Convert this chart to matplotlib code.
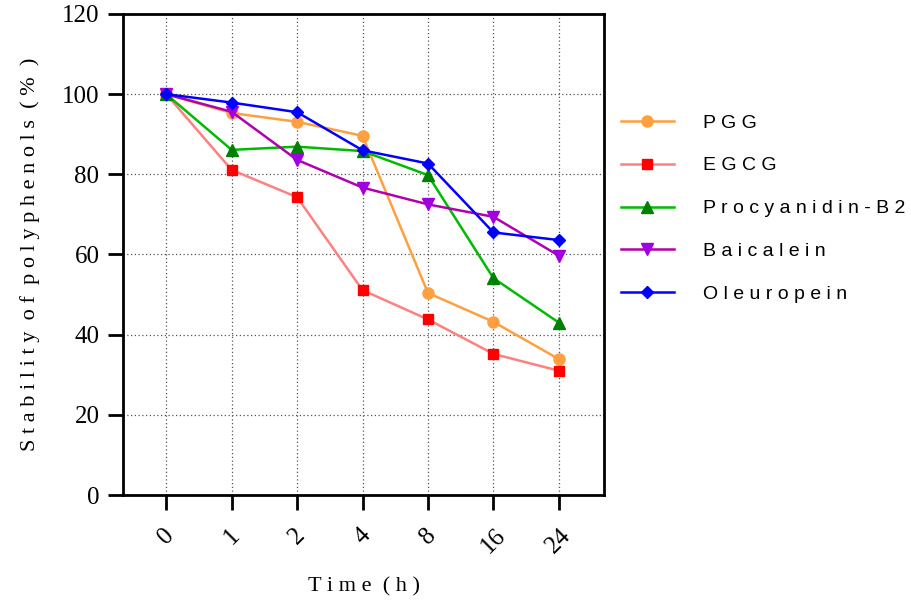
import matplotlib
matplotlib.use("Agg")
import matplotlib.pyplot as plt
import numpy as np

# sampling times (h), shown as evenly spaced categories
times = ["0", "1", "2", "4", "8", "16", "24"]
y_ticks = [0, 20, 40, 60, 80, 100, 120]

pgg = [100, 95.3, 93.1, 89.6, 50.4, 43.2, 33.9]
egcg = [100, 81.1, 74.3, 51.1, 43.8, 35.2, 31.0]
procyanidin_b2 = [100, 86.1, 86.9, 85.8, 79.8, 54.1, 43.0]
baicalein = [100, 95.6, 83.6, 76.7, 72.5, 69.4, 59.7]
oleuropein = [100, 97.9, 95.5, 86.0, 82.7, 65.5, 63.6]

names = ["PGG", "EGCG", "Procyanidin-B2", "Baicalein", "Oleuropein"]


def spaced(s):
    # spread letters out a bit, like the original export
    return " ".join(s)


fig = plt.figure(figsize=(9.12, 6.03), dpi=100)
ax = fig.add_axes([0.1349, 0.1791, 0.5274, 0.7977])

x = np.arange(len(times))
styles = [
    (pgg, "#FFA040", "#FFA040", "o", 8),
    (egcg, "#FF8080", "#FF0000", "s", 7.5),
    (procyanidin_b2, "#00BB00", "#008000", "^", 8),
    (baicalein, "#B000B0", "#A000E0", "v", 8),
    (oleuropein, "#0000FF", "#0000FF", "D", 6.5),
]
for (vals, lc, mc, mk, ms), name in zip(styles, names):
    ax.plot(x, vals, color=lc, lw=1.8, marker=mk, markersize=ms,
            markerfacecolor=mc, markeredgecolor=mc, label=spaced(name))

ax.set_xlim(-0.66, 6.69)
ax.set_ylim(0, 120)
ax.set_yticks(y_ticks)
ax.set_yticklabels([str(v) for v in y_ticks],
                   family="Liberation Serif", fontsize=18)
ax.set_xticks(x)
ax.set_xticklabels(times, rotation=45, ha="center",
                   va="top", family="Liberation Serif", fontsize=18)

ax.grid(True, linestyle=(0, (1, 2)), color="#555555", lw=0.9)
ax.set_axisbelow(True)
for sp in ax.spines.values():
    sp.set_linewidth(2)
ax.tick_params(direction="out", length=11, width=2, pad=6)
ax.tick_params(axis="x", pad=10)

ax.set_ylabel("S t a b i l i t y  o f  p o l y p h e n o l s  ( %  )",
              family="Liberation Serif", fontsize=16, labelpad=16)
ax.set_xlabel("T i m e  ( h )", family="Liberation Serif", fontsize=16,
              labelpad=14)

leg = ax.legend(loc="upper left", bbox_to_anchor=(0.662, 0.84),
                bbox_transform=fig.transFigure, frameon=False,
                prop={"family": "Liberation Sans", "size": 14},
                handlelength=2.7, handletextpad=1.5, labelspacing=1.3)

fig.savefig("out.png", dpi=100)
